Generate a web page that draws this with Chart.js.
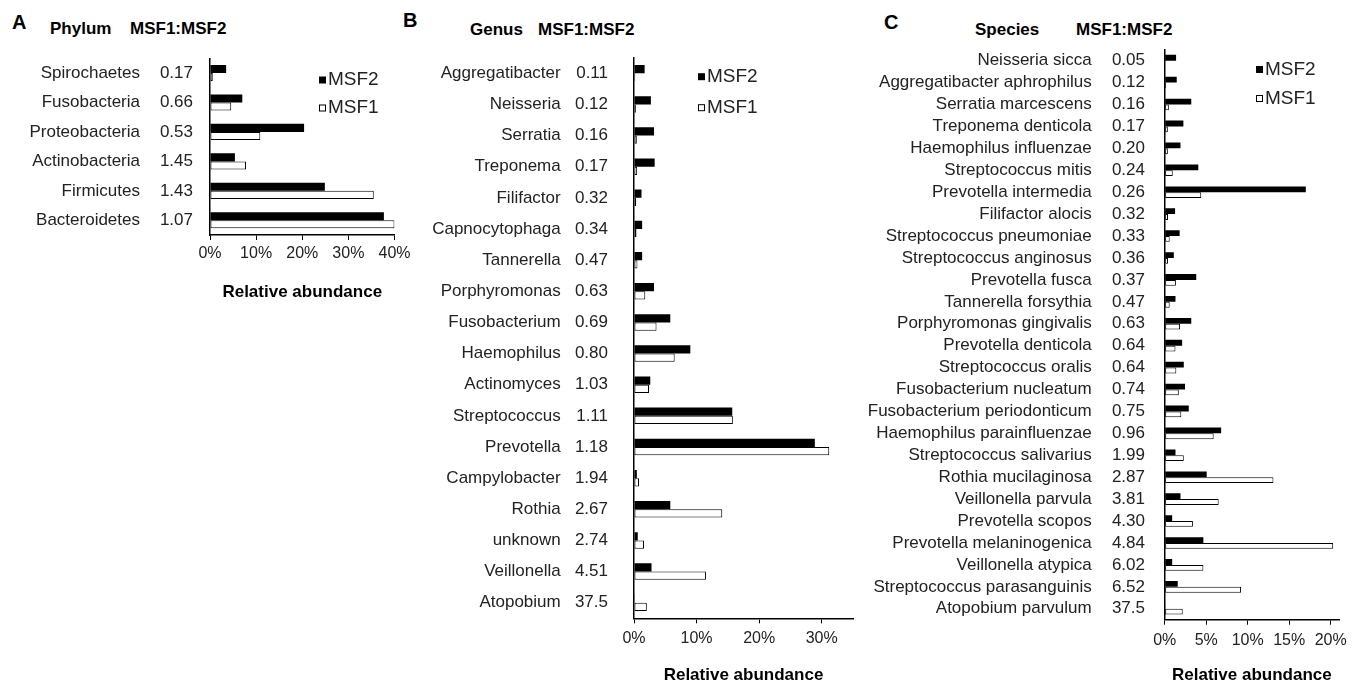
<!DOCTYPE html>
<html>
<head>
<meta charset="utf-8">
<title>MSF1 vs MSF2 relative abundance</title>
<script src="https://cdn.jsdelivr.net/npm/chart.js@4.4.1/dist/chart.umd.min.js"></script>
<style>
  html, body { margin: 0; padding: 0; background: #fff; overflow: hidden; }
  body { width: 1363px; height: 684px; position: relative; font-family: 'Liberation Sans', Arial, sans-serif; color: #000; }
  .head { position: absolute; font-weight: bold; font-size: 17px; line-height: 20px; white-space: nowrap; }
  .letter { position: absolute; font-weight: bold; font-size: 20px; line-height: 24px; }
  canvas { position: absolute; }
</style>
</head>
<body>
<div class="letter" style="left:12px;top:10px">A</div>
<div class="head" style="left:50px;top:19px">Phylum</div>
<div class="head" style="left:130px;top:19px">MSF1:MSF2</div>
<div class="letter" style="left:403px;top:8px">B</div>
<div class="head" style="left:470px;top:20px">Genus</div>
<div class="head" style="left:538px;top:20px">MSF1:MSF2</div>
<div class="letter" style="left:884px;top:10px">C</div>
<div class="head" style="left:975px;top:20px">Species</div>
<div class="head" style="left:1076px;top:20px">MSF1:MSF2</div>

<canvas id="chartA" width="420" height="270" style="left:0;top:40px"></canvas>
<canvas id="chartB" width="470" height="646" style="left:395px;top:40px"></canvas>
<canvas id="chartC" width="503" height="646" style="left:860px;top:40px"></canvas>

<script>
// --- data (relative abundance, %) ---
const phylumLabels = ['Spirochaetes', 'Fusobacteria', 'Proteobacteria', 'Actinobacteria', 'Firmicutes', 'Bacteroidetes'];
const phylumRatio = ['0.17', '0.66', '0.53', '1.45', '1.43', '1.07'];
const phylumMSF2 = [3.5, 7.0, 20.4, 5.4, 24.9, 37.7];
const phylumMSF1 = [0.6, 4.6, 10.9, 7.8, 35.5, 40.0];
const phylumTicks = [0, 10, 20, 30, 40];

const genusLabels = ['Aggregatibacter', 'Neisseria', 'Serratia', 'Treponema', 'Filifactor', 'Capnocytophaga',
    'Tannerella', 'Porphyromonas', 'Fusobacterium', 'Haemophilus', 'Actinomyces', 'Streptococcus',
    'Prevotella', 'Campylobacter', 'Rothia', 'unknown', 'Veillonella', 'Atopobium'];
const genusRatio = ['0.11', '0.12', '0.16', '0.17', '0.32', '0.34', '0.47', '0.63', '0.69',
    '0.80', '1.03', '1.11', '1.18', '1.94', '2.67', '2.74', '4.51', '37.5'];
const genusMSF2 = [1.7, 2.7, 3.2, 3.3, 1.2, 1.3, 1.3, 3.2, 5.8, 9.0, 2.6, 15.7, 28.9, 0.45, 5.8, 0.6, 2.8, 0.05];
const genusMSF1 = [0.2, 0.3, 0.45, 0.5, 0.35, 0.4, 0.55, 1.8, 3.6, 6.5, 2.4, 15.8, 31.2, 0.8, 14.1, 1.6, 11.5, 2.05];
const genusTicks = [0, 10, 20, 30];

const speciesLabels = ['Neisseria sicca', 'Aggregatibacter aphrophilus', 'Serratia marcescens', 'Treponema denticola',
    'Haemophilus influenzae', 'Streptococcus mitis', 'Prevotella intermedia', 'Filifactor alocis',
    'Streptococcus pneumoniae', 'Streptococcus anginosus', 'Prevotella fusca', 'Tannerella forsythia',
    'Porphyromonas gingivalis', 'Prevotella denticola', 'Streptococcus oralis', 'Fusobacterium nucleatum',
    'Fusobacterium periodonticum', 'Haemophilus parainfluenzae', 'Streptococcus salivarius', 'Rothia mucilaginosa',
    'Veillonella parvula', 'Prevotella scopos', 'Prevotella melaninogenica', 'Veillonella atypica',
    'Streptococcus parasanguinis', 'Atopobium parvulum'];
const speciesRatio = ['0.05', '0.12', '0.16', '0.17', '0.20', '0.24', '0.26', '0.32', '0.33', '0.36', '0.37', '0.47',
    '0.63', '0.64', '0.64', '0.74', '0.75', '0.96', '1.99', '2.87', '3.81', '4.30', '4.84', '6.02', '6.52', '37.5'];
const speciesMSF2 = [1.37, 1.45, 3.2, 2.25, 1.9, 4.05, 17.0, 1.25, 1.8, 1.1, 3.8, 1.3,
    3.2, 2.1, 2.3, 2.45, 2.9, 6.8, 1.3, 5.06, 1.9, 0.9, 4.66, 0.9, 1.57, 0.05];
const speciesMSF1 = [0.07, 0.17, 0.5, 0.38, 0.38, 0.97, 4.4, 0.4, 0.6, 0.4, 1.35, 0.6,
    1.85, 1.3, 1.4, 1.7, 2.0, 5.9, 2.3, 13.1, 6.5, 3.4, 20.3, 4.66, 9.2, 2.17];
const speciesTicks = [0, 5, 10, 15, 20];

const FONT = "'Liberation Sans', Arial, sans-serif";
Chart.defaults.font.family = FONT;
Chart.defaults.color = '#222';

// legend drawn inside the plot area (square + label per dataset)
const boxLegend = {
    id: 'boxLegend',
    afterDraw(chart, args, opts) {
        const { ctx, chartArea } = chart;
        ctx.save();
        ctx.font = opts.size + 'px ' + FONT;
        ctx.textBaseline = 'middle';
        chart.data.datasets.forEach((ds, i) => {
            const x = chartArea.left + opts.x;
            const y = chartArea.top + opts.y + i * opts.gap;
            ctx.fillStyle = ds.backgroundColor;
            ctx.fillRect(x, y - 3.5, 7, 7);
            if (ds.borderWidth) {
                ctx.strokeStyle = '#000';
                ctx.lineWidth = 1;
                ctx.strokeRect(x + 0.5, y - 3, 6, 6);
            }
            ctx.fillStyle = '#222';
            ctx.fillText(ds.label, x + 9, y);
        });
        ctx.restore();
    }
};

function makeChart(id, labels, ratios, msf2, msf1, ticks, lay) {
    return new Chart(document.getElementById(id), {
        type: 'bar',
        data: {
            labels: labels,
            datasets: [
                { label: 'MSF2', data: msf2, backgroundColor: '#000', borderWidth: 0 },
                { label: 'MSF1', data: msf1, backgroundColor: '#fff', borderColor: '#000', borderWidth: 1, borderSkipped: false }
            ]
        },
        options: {
            indexAxis: 'y',
            responsive: false,
            animation: false,
            datasets: { bar: { categoryPercentage: lay.cat, barPercentage: 1 } },
            layout: { padding: { top: lay.top, right: lay.right, left: 0, bottom: 0 } },
            plugins: {
                legend: { display: false },
                tooltip: { enabled: false },
                boxLegend: lay.legend
            },
            scales: {
                x: {
                    type: 'linear', position: 'bottom', min: 0, max: lay.max,
                    afterBuildTicks: s => { s.ticks = ticks.map(v => ({ value: v })); },
                    afterFit: s => { s.height = lay.xHeight; s.paddingLeft = 0; s.paddingRight = 0; },
                    grid: { display: true, drawOnChartArea: false, drawTicks: true, tickLength: 5, color: '#000', lineWidth: 1 },
                    border: { display: true, color: '#000', width: 1.5 },
                    ticks: { padding: lay.tickPad, font: { size: 16 }, color: '#222', callback: v => v + '%' },
                    title: {
                        display: true, text: 'Relative abundance', color: '#000',
                        font: { size: 17, weight: 'bold' }, padding: { top: 0, bottom: lay.titlePad }
                    }
                },
                y: {
                    type: 'category', position: 'left', weight: 1, offset: true,
                    afterFit: s => { s.width = lay.nameW; s.paddingTop = 0; s.paddingBottom = 0; },
                    grid: { display: false, drawTicks: false },
                    border: { display: false },
                    ticks: { padding: lay.namePad, font: { size: 17 }, color: '#222', autoSkip: false }
                },
                y2: {
                    type: 'category', axis: 'y', position: 'left', weight: 0, offset: true, labels: ratios,
                    afterFit: s => { s.width = lay.ratioW; s.paddingTop = 0; s.paddingBottom = 0; },
                    grid: { display: false, drawTicks: false },
                    border: { display: true, color: '#000', width: 1.5 },
                    ticks: { padding: lay.ratioPad, font: { size: 17 }, color: '#222', autoSkip: false }
                }
            }
        },
        plugins: [boxLegend]
    });
}

makeChart('chartA', phylumLabels, phylumRatio, phylumMSF2, phylumMSF1, phylumTicks, {
    cat: 0.55, top: 18.3, right: 25.5, max: 40,
    nameW: 150, namePad: 10, ratioW: 60, ratioPad: 17,
    xHeight: 75, tickPad: 4.4, titlePad: 7.3,
    legend: { x: 109, y: 21.7, gap: 28, size: 19 }
});

makeChart('chartB', genusLabels, genusRatio, genusMSF2, genusMSF1, genusTicks, {
    cat: 0.53, top: 17.7, right: 12, max: 35,
    nameW: 180, namePad: 14.3, ratioW: 59, ratioPad: 26,
    xHeight: 67.7, tickPad: 6.1, titlePad: 0.8,
    legend: { x: 64, y: 19, gap: 31, size: 19 }
});

makeChart('chartC', speciesLabels, speciesRatio, speciesMSF2, speciesMSF1, speciesTicks, {
    cat: 0.53, top: 9.7, right: 24, max: 21,
    nameW: 245, namePad: 13.3, ratioW: 59.7, ratioPad: 19.7,
    xHeight: 66.3, tickPad: 6.7, titlePad: 0.8,
    legend: { x: 91.3, y: 19.8, gap: 29, size: 19 }
});
</script>
</body>
</html>
